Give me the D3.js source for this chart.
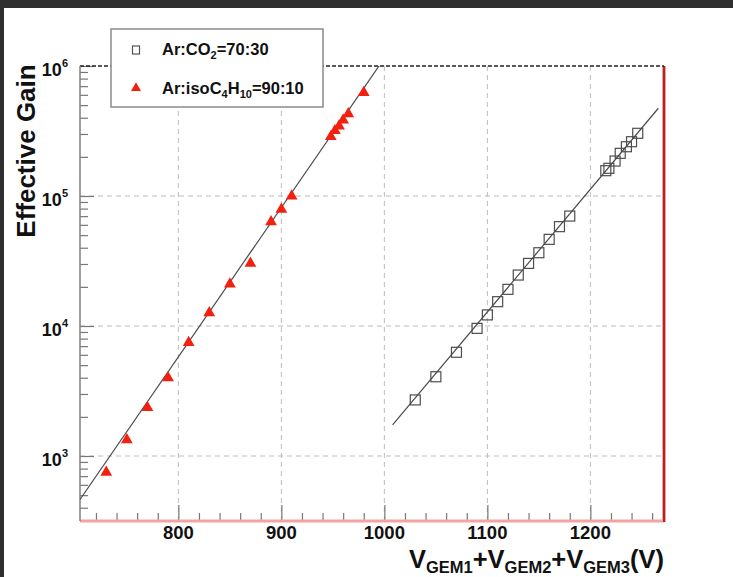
<!DOCTYPE html>
<html>
<head>
<meta charset="utf-8">
<script src="https://cdn.jsdelivr.net/npm/d3@7"></script>
<style>
  body { margin: 0; background: #fff; }
  svg { display: block; }
  text { font-family: "Liberation Sans", Arial, Helvetica, sans-serif; font-weight: bold; fill: #111; }
</style>
</head>
<body>
<svg id="chart" width="733" height="577"></svg>
<script>
// Ar:CO2 = 70:30 measurements (sum of the three GEM voltages, effective gain)
const co2Voltage = [1030, 1050, 1070, 1090, 1100, 1110, 1120, 1130, 1140, 1150, 1160, 1170, 1180,
                    1215, 1218, 1224, 1229, 1235, 1240, 1246];
const co2Gain    = [2700, 4070, 6280, 9590, 12170, 15380, 19140, 24660, 30300, 36600, 46400, 58100, 70100,
                    156600, 163300, 185700, 212900, 239300, 261600, 303600];

// Ar:isoC4H10 = 90:10 measurements
const isoVoltage = [730, 750, 770, 790, 810, 830, 850, 870, 890, 900, 910, 948, 952, 956, 960, 965, 980];
const isoGain    = [750, 1330, 2360, 4000, 7450, 12650, 21000, 30300, 63400, 78900, 100000,
                    286000, 318000, 345000, 384000, 428000, 624000];

// Exponential fits: log10(G) = intercept + slope * V, drawn over [from, to]
const co2Fit = { intercept: -6.276, slope: 0.00944, from: 1008, to: 1266 };
const isoFit = { intercept: -5.4263, slope: 0.011486, from: 704.5, to: 995 };

// Axis ticks and labels
const xTickValues = [800, 900, 1000, 1100, 1200];
const yTickExponents = [3, 4, 5, 6];
const legendLabels = ["Ar:CO2=70:30", "Ar:isoC4H10=90:10"];

const svg = d3.select("#chart");
const W = 733, H = 577;
const plot = { left: 80, right: 664, top: 66, bottom: 521 };

// window frame
svg.append("rect").attr("x", 0).attr("y", 0).attr("width", W).attr("height", H).attr("fill", "#fff");
svg.append("rect").attr("x", 0).attr("y", 0).attr("width", W).attr("height", 8).attr("fill", "#2f2f2f");
svg.append("rect").attr("x", 0).attr("y", 0).attr("width", 4).attr("height", H).attr("fill", "#2f2f2f");

const x = d3.scaleLinear().domain([704.5, 1271.5]).range([plot.left, plot.right]);
const y = d3.scaleLog().domain([Math.pow(10, 2.5), 1e6]).range([plot.bottom, plot.top]);

svg.append("clipPath").attr("id", "plotclip").append("rect")
  .attr("x", plot.left).attr("y", plot.top)
  .attr("width", plot.right - plot.left).attr("height", plot.bottom - plot.top);

// grid
const grid = svg.append("g").attr("stroke", "#bcbcbc").attr("stroke-width", 1).attr("stroke-dasharray", "5,4");
grid.selectAll("line.vx").data(xTickValues).join("line")
  .attr("x1", d => x(d)).attr("x2", d => x(d))
  .attr("y1", plot.top).attr("y2", plot.bottom);
grid.selectAll("line.hy").data(yTickExponents.filter(e => e < 6)).join("line")
  .attr("x1", plot.left).attr("x2", plot.right)
  .attr("y1", e => y(Math.pow(10, e))).attr("y2", e => y(Math.pow(10, e)));

// bottom axis ticks (pointing into the plot)
const xMinor = d3.range(720, 1271, 20).filter(v => v % 100 !== 0);
const xAxisMajor = d3.axisBottom(x).tickValues(xTickValues).tickSize(-16).tickFormat("");
const xAxisMinor = d3.axisBottom(x).tickValues(xMinor).tickSize(-8).tickFormat("");
[xAxisMajor, xAxisMinor].forEach(ax => {
  const g = svg.append("g").attr("transform", `translate(0,${plot.bottom})`).call(ax);
  g.select(".domain").remove();
  g.selectAll(".tick line").attr("stroke", "#777").attr("stroke-width", 1.2);
});

// left axis ticks
const yMajor = yTickExponents.map(e => Math.pow(10, e));
const yMinor = [];
[2, 3, 4, 5].forEach(e => d3.range(2, 10).forEach(m => {
  const v = m * Math.pow(10, e);
  if (v >= Math.pow(10, 2.5) && v < 1e6) yMinor.push(v);
}));
const yAxisMajor = d3.axisLeft(y).tickValues(yMajor).tickSize(-14).tickFormat("");
const yAxisMinor = d3.axisLeft(y).tickValues(yMinor).tickSize(-8).tickFormat("");
[yAxisMajor, yAxisMinor].forEach(ax => {
  const g = svg.append("g").attr("transform", `translate(${plot.left},0)`).call(ax);
  g.select(".domain").remove();
  g.selectAll(".tick line").attr("stroke", "#777").attr("stroke-width", 1.2);
});

// frame lines
svg.append("line").attr("x1", plot.left).attr("x2", plot.right).attr("y1", plot.bottom).attr("y2", plot.bottom)
  .attr("stroke", "#f4a3a3").attr("stroke-width", 3);
svg.append("line").attr("x1", plot.right).attr("x2", plot.right).attr("y1", plot.top).attr("y2", plot.bottom + 1)
  .attr("stroke", "#f0a0a0").attr("stroke-width", 4);
svg.append("line").attr("x1", plot.right).attr("x2", plot.right).attr("y1", plot.top).attr("y2", plot.bottom + 1)
  .attr("stroke", "#b3261e").attr("stroke-width", 2);
svg.append("line").attr("x1", plot.left).attr("x2", plot.right).attr("y1", plot.top).attr("y2", plot.top)
  .attr("stroke", "#222").attr("stroke-width", 1.5).attr("stroke-dasharray", "4,2");
svg.append("line").attr("x1", plot.left).attr("x2", plot.left).attr("y1", plot.top).attr("y2", plot.bottom)
  .attr("stroke", "#808080").attr("stroke-width", 1.5);

// fit lines
const fitLine = d3.line().x(d => x(d[0])).y(d => y(d[1]));
const body = svg.append("g").attr("clip-path", "url(#plotclip)");
[isoFit, co2Fit].forEach(f => {
  const pts = [f.from, f.to].map(v => [v, Math.pow(10, f.intercept + f.slope * v)]);
  body.append("path").attr("d", fitLine(pts))
    .attr("fill", "none").attr("stroke", "#4a4a4a").attr("stroke-width", 1.2);
});

// markers
const tri = d3.symbol().type(d3.symbolTriangle).size(60);
body.selectAll("path.iso").data(isoVoltage.map((v, i) => [v, isoGain[i]])).join("path")
  .attr("class", "iso")
  .attr("transform", d => `translate(${x(d[0])},${y(d[1])})`)
  .attr("d", tri())
  .attr("fill", "#f2200f");
const sq = 10;
body.selectAll("rect.co2").data(co2Voltage.map((v, i) => [v, co2Gain[i]])).join("rect")
  .attr("class", "co2")
  .attr("x", d => x(d[0]) - sq / 2).attr("y", d => y(d[1]) - sq / 2)
  .attr("width", sq).attr("height", sq)
  .attr("fill", "none").attr("stroke", "#4d4d4d").attr("stroke-width", 1.2);

// y tick labels 10^n
yTickExponents.forEach(e => {
  const t = svg.append("text").attr("x", 68).attr("y", y(Math.pow(10, e)) + 10)
    .attr("text-anchor", "end").attr("font-size", 18);
  t.append("tspan").text("10");
  t.append("tspan").attr("font-size", 11).attr("dy", -9).text(e);
});

// x tick labels
svg.selectAll("text.xt").data(xTickValues).join("text")
  .attr("class", "xt")
  .attr("x", d => x(d)).attr("y", plot.bottom + 18)
  .attr("text-anchor", "middle").attr("font-size", 18.5)
  .text(d => d);

// axis titles
svg.append("text").attr("transform", "rotate(-90)")
  .attr("x", -151).attr("y", 35).attr("text-anchor", "middle").attr("font-size", 26)
  .text("Effective Gain");

const xt = svg.append("text").attr("x", plot.right).attr("y", 567.5).attr("text-anchor", "end").attr("font-size", 25);
[["V", 0], ["GEM1", 1], ["+V", 0], ["GEM2", 1], ["+V", 0], ["GEM3", 1], ["(V)", 0]].forEach((p, i, arr) => {
  const prevSub = i > 0 ? arr[i - 1][1] : 0;
  const dy = p[1] && !prevSub ? 5 : (!p[1] && prevSub ? -5 : 0);
  xt.append("tspan").attr("font-size", p[1] ? 16.5 : 25.5).attr("dy", dy).text(p[0]);
});

// legend
const lg = svg.append("g");
lg.append("rect").attr("x", 111).attr("y", 29).attr("width", 212).attr("height", 78)
  .attr("fill", "#fff").attr("stroke", "#8a8a8a").attr("stroke-width", 1.5);
lg.append("rect").attr("x", 132.5).attr("y", 46).attr("width", 7).attr("height", 8)
  .attr("fill", "none").attr("stroke", "#555").attr("stroke-width", 1.2);
lg.append("path").attr("transform", "translate(136,88)").attr("d", d3.symbol().type(d3.symbolTriangle).size(44)())
  .attr("fill", "#f2200f");

function chemLabel(yPos, str) {
  const t = lg.append("text").attr("x", 162).attr("y", yPos).attr("font-size", 16.5);
  // digits directly after an element symbol are written as subscripts
  const parts = str.split("=");
  const formula = parts[0].match(/[A-Za-z:]+|\d+/g);
  let sub = false;
  formula.forEach(tok => {
    const isNum = /^\d+$/.test(tok);
    const dy = isNum && !sub ? 4 : (!isNum && sub ? -4 : 0);
    t.append("tspan").attr("font-size", isNum ? 11 : 16.5).attr("dy", dy).text(tok);
    sub = isNum;
  });
  t.append("tspan").attr("font-size", 16.5).attr("dy", sub ? -4 : 0).text("=" + parts[1]);
}
chemLabel(55, legendLabels[0]);
chemLabel(94, legendLabels[1]);
</script>
</body>
</html>
